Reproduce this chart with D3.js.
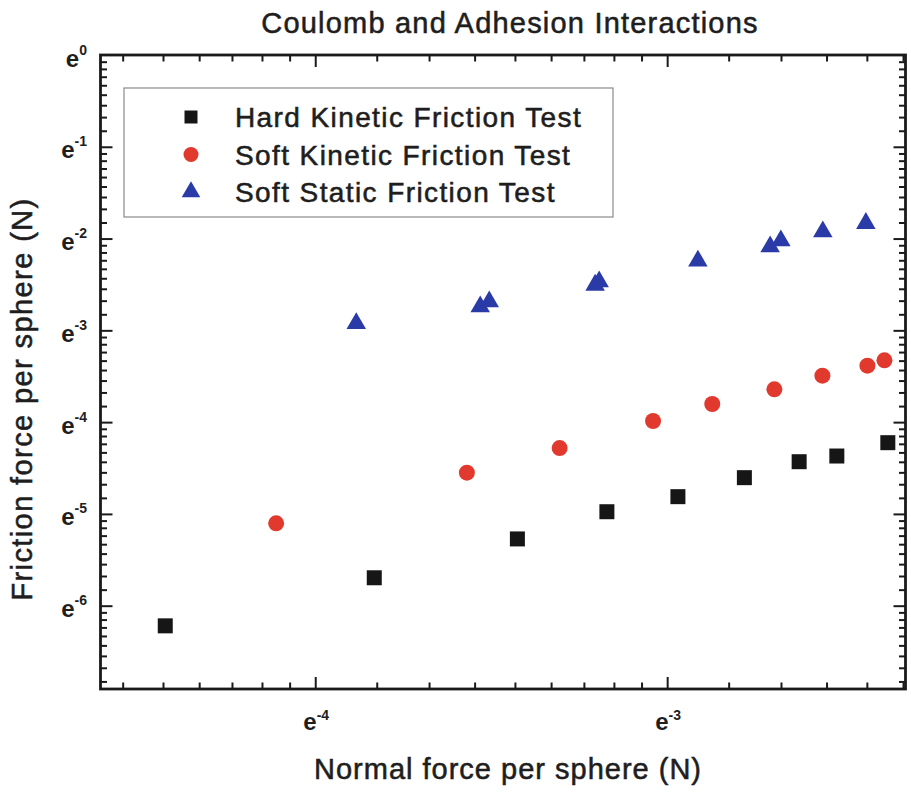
<!DOCTYPE html>
<html>
<head>
<meta charset="utf-8">
<script src="https://cdn.jsdelivr.net/npm/d3@7"></script>
<style>
  html, body { margin: 0; padding: 0; background: #fff; }
  svg { display: block; }
  text { font-family: "Liberation Sans", Arial, sans-serif; fill: #1e1e1e; }
  text.heavy { stroke: #1e1e1e; stroke-width: 0.55px; }
</style>
</head>
<body>
<svg id="chart" width="911" height="792"></svg>
<script>
// ---------- data ----------
const seriesNames = ["Hard Kinetic Friction Test", "Soft Kinetic Friction Test", "Soft Static Friction Test"];

const hardX = [0.01196, 0.02166, 0.03253, 0.04195, 0.05133, 0.0620, 0.07244, 0.08063, 0.0932];
const hardY = [0.00199, 0.00336, 0.00513, 0.00690, 0.00813, 0.01000, 0.01190, 0.01266, 0.01464];

const softKinX = [0.01639, 0.02818, 0.03668, 0.04783, 0.05659, 0.06752, 0.07739, 0.08795, 0.09231];
const softKinY = [0.00608, 0.01056, 0.01381, 0.01854, 0.02231, 0.02619, 0.03038, 0.03387, 0.03592];

const softStaX = [0.02058, 0.02927, 0.03003, 0.04057, 0.04104, 0.05433, 0.06671, 0.06877, 0.07748, 0.08756];
const softStaY = [0.0537, 0.0644, 0.0680, 0.0816, 0.0846, 0.1060, 0.1239, 0.1322, 0.1458, 0.1598];

const xTickExps = [-4, -3];
const yTickExps = [0, -1, -2, -3, -4, -5, -6];
const xDomain = [0.00995, 0.098];
const yDomain = [0.001, 1];

const titleText = "Coulomb and Adhesion Interactions";
const xLabelText = "Normal force per sphere (N)";
const yLabelText = "Friction force per sphere (N)";

// ---------- layout ----------
const svg = d3.select("#chart");
const L = 100.5, R = 905.5, T = 55, B = 689;

const x = d3.scaleLog().base(Math.E).domain(xDomain).range([L, R]);
const y = d3.scaleLog().base(Math.E).domain(yDomain).range([B, T]);

// major & minor tick values (8 linear minors between e^k and e^(k+1))
function minorTicks(domain) {
  const out = [];
  const lo = Math.floor(Math.log(domain[0])) - 1, hi = Math.ceil(Math.log(domain[1]));
  for (let k = lo; k < hi; k++) {
    const a = Math.exp(k), b = Math.exp(k + 1);
    for (let j = 1; j <= 8; j++) {
      const v = a + j * (b - a) / 9;
      if (v > domain[0] * 1.0001 && v < domain[1] * 0.9999) out.push(v);
    }
  }
  return out;
}
const xMajor = xTickExps.map(e => Math.exp(e));
const yMajor = yTickExps.map(e => Math.exp(e)).filter(v => v > yDomain[0] && v < yDomain[1]);
const xMinor = minorTicks(xDomain);
const yMinor = minorTicks(yDomain);

const MAJ = 12, MIN = 6.5;
function styleAxis(g) {
  g.select(".domain").remove();
  g.selectAll(".tick line").attr("stroke", "#1a1a1a").attr("stroke-width", 2);
  g.selectAll(".tick text").remove();
}
// bottom / top
svg.append("g").attr("transform", `translate(0,${B})`).call(d3.axisBottom(x).tickValues(xMajor).tickSize(-MAJ)).call(styleAxis);
svg.append("g").attr("transform", `translate(0,${B})`).call(d3.axisBottom(x).tickValues(xMinor).tickSize(-MIN)).call(styleAxis);
svg.append("g").attr("transform", `translate(0,${T})`).call(d3.axisTop(x).tickValues(xMajor).tickSize(-MAJ)).call(styleAxis);
svg.append("g").attr("transform", `translate(0,${T})`).call(d3.axisTop(x).tickValues(xMinor).tickSize(-MIN)).call(styleAxis);
// left / right
svg.append("g").attr("transform", `translate(${L},0)`).call(d3.axisLeft(y).tickValues(yMajor).tickSize(-MAJ)).call(styleAxis);
svg.append("g").attr("transform", `translate(${L},0)`).call(d3.axisLeft(y).tickValues(yMinor).tickSize(-MIN)).call(styleAxis);
svg.append("g").attr("transform", `translate(${R},0)`).call(d3.axisRight(y).tickValues(yMajor).tickSize(-MAJ)).call(styleAxis);
svg.append("g").attr("transform", `translate(${R},0)`).call(d3.axisRight(y).tickValues(yMinor).tickSize(-MIN)).call(styleAxis);

// frame
svg.append("rect").attr("x", L).attr("y", T).attr("width", R - L).attr("height", B - T)
  .attr("fill", "none").attr("stroke", "#1a1a1a").attr("stroke-width", 2.8);

// tick labels
const tickFont = 24, supFont = 14;
xTickExps.forEach(e => {
  const t = svg.append("text").attr("x", x(Math.exp(e)) + 1).attr("y", B + 41)
    .attr("text-anchor", "middle").attr("font-size", tickFont).attr("font-weight", "bold");
  t.append("tspan").text("e");
  t.append("tspan").attr("font-size", supFont).attr("dy", -10).text(String(e));
});
yTickExps.forEach(e => {
  const t = svg.append("text").attr("x", 87).attr("y", y(Math.exp(e)) + 11.5)
    .attr("text-anchor", "end").attr("font-size", tickFont).attr("font-weight", "bold");
  t.append("tspan").text("e");
  t.append("tspan").attr("font-size", supFont).attr("dy", -12).text(String(e));
});

// titles
svg.append("text").attr("class", "heavy").attr("x", 510).attr("y", 33).attr("text-anchor", "middle")
  .attr("font-size", 29).attr("letter-spacing", 1.2).text(titleText);
svg.append("text").attr("class", "heavy").attr("x", 508).attr("y", 779).attr("text-anchor", "middle")
  .attr("font-size", 29).attr("letter-spacing", 1.0).text(xLabelText);
svg.append("text").attr("class", "heavy").attr("transform", "translate(32,399) rotate(-90)").attr("text-anchor", "middle")
  .attr("font-size", 29).attr("letter-spacing", 1.4).text(yLabelText);

// markers
const colors = ["#161616", "#e2392f", "#2a3aa6"];
const sq = d3.symbol().type(d3.symbolSquare).size(15 * 15);
const ci = d3.symbol().type(d3.symbolCircle).size(Math.PI * 8 * 8);
const tr = d3.symbol().type(d3.symbolTriangle).size(165);

const plot = svg.append("g");
plot.selectAll(".hard").data(d3.zip(hardX, hardY)).join("path")
  .attr("d", sq).attr("fill", colors[0])
  .attr("transform", d => `translate(${x(d[0])},${y(d[1])})`);
plot.selectAll(".softk").data(d3.zip(softKinX, softKinY)).join("path")
  .attr("d", ci).attr("fill", colors[1])
  .attr("transform", d => `translate(${x(d[0])},${y(d[1])})`);
plot.selectAll(".softs").data(d3.zip(softStaX, softStaY)).join("path")
  .attr("d", tr).attr("fill", colors[2])
  .attr("transform", d => `translate(${x(d[0])},${y(d[1])})`);

// legend
const lg = svg.append("g");
lg.append("rect").attr("x", 124).attr("y", 88).attr("width", 489).attr("height", 129)
  .attr("fill", "#fff").attr("stroke", "#8a8a8a").attr("stroke-width", 1.2);
const lsq = d3.symbol().type(d3.symbolSquare).size(13 * 13);
const lci = d3.symbol().type(d3.symbolCircle).size(Math.PI * 7.5 * 7.5);
const ltr = d3.symbol().type(d3.symbolTriangle).size(150);
const syms = [lsq, lci, ltr];
seriesNames.forEach((name, i) => {
  const cy = 117 + i * 37.5;
  lg.append("path").attr("d", syms[i]).attr("fill", colors[i]).attr("transform", `translate(191,${cy})`);
  lg.append("text").attr("class", "heavy").attr("x", 235).attr("y", cy + 10)
    .attr("font-size", 28).attr("letter-spacing", 1.4).text(name);
});
</script>
</body>
</html>
